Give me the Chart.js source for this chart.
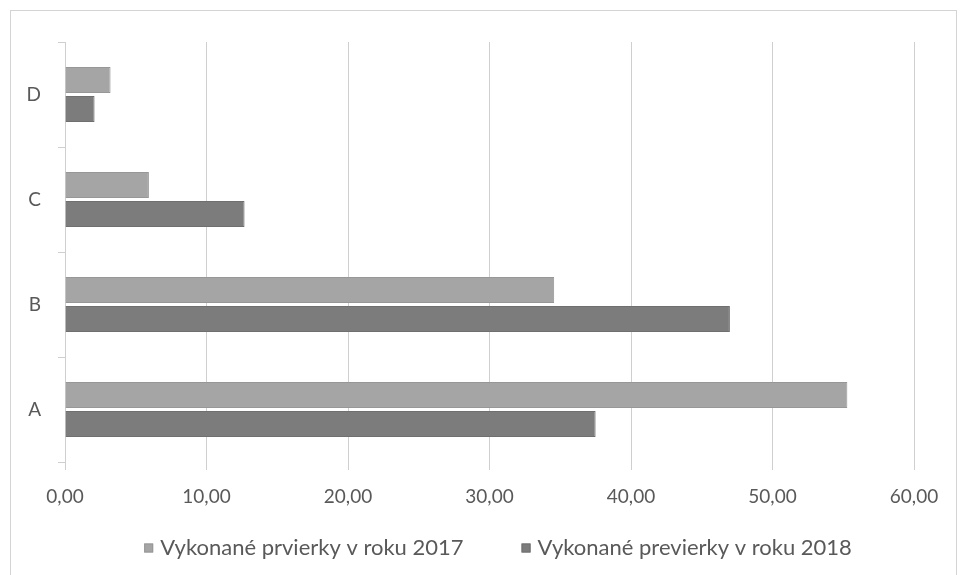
<!DOCTYPE html>
<html>
<head>
<meta charset="utf-8">
<script src="https://cdn.jsdelivr.net/npm/chart.js@4.4.1/dist/chart.umd.min.js"></script>
<style>
  html, body { margin: 0; padding: 0; background: #ffffff; }
  #wrap { position: relative; width: 960px; height: 575px; overflow: hidden; }
  #frame { position: absolute; left: 10px; top: 10px; width: 947px; height: 600px;
           border: 1px solid #d4d4d4; box-sizing: border-box; }
  canvas { position: absolute; left: 0; top: 0; }
</style>
</head>
<body>
<div id="wrap">
  <div id="frame"></div>
  <canvas id="chart" width="960" height="575"></canvas>
</div>
<script>
// Categories, top to bottom
const categories = ['D', 'C', 'B', 'A'];
// Number of inspections per category and year
const values2017 = [3.22, 5.93, 34.57, 55.29];
const values2018 = [2.09, 12.69, 46.99, 37.50];
const seriesNames = ['Vykonané prvierky v roku 2017', 'Vykonané previerky v roku 2018'];
const xTicks = [0, 10, 20, 30, 40, 50, 60];

const textColor = '#595959';
const gridColor = '#cfcfcf';
const fontFamily = 'Lato, "Open Sans", sans-serif';

// Legend row drawn under the axis: small square swatch, then the series name
const bottomLegend = {
  id: 'bottomLegend',
  afterDraw(chart, args, opts) {
    const ctx = chart.ctx;
    const sets = chart.data.datasets;
    ctx.save();
    ctx.font = `${opts.fontSize}px ${fontFamily}`;
    ctx.textBaseline = 'middle';
    const widths = sets.map(ds => opts.box + opts.boxGap + ctx.measureText(ds.label).width);
    const total = widths.reduce((a, b) => a + b, 0) + opts.itemGap * (sets.length - 1);
    let x = opts.centerX - total / 2;
    sets.forEach((ds, i) => {
      ctx.fillStyle = ds.backgroundColor;
      ctx.fillRect(x, opts.y - opts.box / 2, opts.box, opts.box);
      ctx.strokeStyle = ds.borderColor;
      ctx.lineWidth = 1;
      ctx.strokeRect(x + 0.5, opts.y - opts.box / 2 + 0.5, opts.box - 1, opts.box - 1);
      ctx.fillStyle = textColor;
      ctx.fillText(ds.label, x + opts.box + opts.boxGap, opts.y);
      x += widths[i] + opts.itemGap;
    });
    ctx.restore();
  }
};

new Chart(document.getElementById('chart'), {
  type: 'bar',
  data: {
    labels: categories,
    datasets: [
      {
        label: seriesNames[0],
        data: values2017,
        backgroundColor: '#a5a5a5',
        borderColor: '#979797',
        borderWidth: 1,
        barPercentage: 0.9,
        categoryPercentage: 0.55
      },
      {
        label: seriesNames[1],
        data: values2018,
        backgroundColor: '#7c7c7c',
        borderColor: '#6f6f6f',
        borderWidth: 1,
        barPercentage: 0.9,
        categoryPercentage: 0.55
      }
    ]
  },
  options: {
    indexAxis: 'y',
    responsive: false,
    animation: false,
    layout: { padding: { top: 42, right: 46, left: 0, bottom: 51 } },
    scales: {
      x: {
        min: 0,
        max: 60,
        afterBuildTicks: (scale) => { scale.ticks = xTicks.map(v => ({ value: v })); },
        afterFit: (scale) => { scale.height = 62; },
        grid: { color: gridColor, lineWidth: 1, drawTicks: true, tickLength: 8 },
        border: { display: false },
        ticks: {
          color: textColor,
          font: { family: fontFamily, size: 19 },
          padding: 15,
          callback: (v) => Number(v).toFixed(2).replace('.', ',')
        }
      },
      y: {
        afterFit: (scale) => { scale.width = 65; },
        grid: { drawOnChartArea: false, drawTicks: true, tickLength: 7, color: gridColor },
        border: { display: true, color: gridColor },
        ticks: {
          color: textColor,
          font: { family: fontFamily, size: 19 },
          padding: 17
        }
      }
    },
    plugins: {
      legend: { display: false },
      tooltip: { enabled: false },
      bottomLegend: { fontSize: 22, box: 9, boxGap: 7, itemGap: 58, centerX: 498, y: 548 }
    }
  },
  plugins: [bottomLegend]
});
</script>
</body>
</html>
